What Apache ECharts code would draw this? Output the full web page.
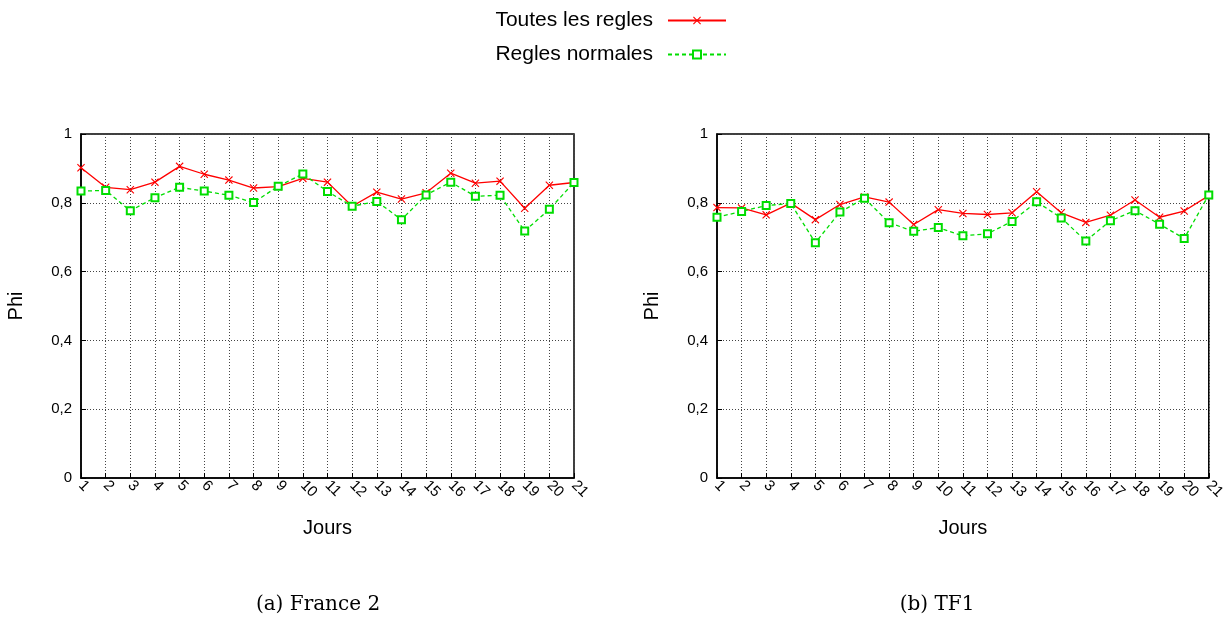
<!DOCTYPE html>
<html lang="fr">
<head>
  <meta charset="UTF-8">
  <title>Phi par jour</title>
</head>
<body style="margin:0; background-color:#fff;">
<div id="main" style="width:1228px; height:619px;"></div>

<script src="https://cdn.jsdelivr.net/npm/echarts@6/dist/echarts.min.js"></script>

<script>
  // jours 1..21
  var jours = ['1','2','3','4','5','6','7','8','9','10','11','12','13','14','15','16','17','18','19','20','21'];
  var yTicks = { min: 0, max: 1, interval: 0.2 };

  // (a) France 2
  var f2Toutes = [0.902, 0.845, 0.838, 0.860, 0.906, 0.883, 0.866, 0.843, 0.847, 0.871, 0.860,
                  0.790, 0.831, 0.811, 0.829, 0.886, 0.857, 0.863, 0.784, 0.851, 0.859];
  var f2Normales = [0.834, 0.836, 0.777, 0.815, 0.845, 0.834, 0.822, 0.801, 0.848, 0.884, 0.833,
                    0.790, 0.804, 0.751, 0.823, 0.860, 0.819, 0.822, 0.718, 0.781, 0.859];

  // (b) TF1
  var tf1Toutes = [0.786, 0.785, 0.765, 0.799, 0.751, 0.795, 0.817, 0.802, 0.737, 0.780, 0.769,
                   0.766, 0.771, 0.832, 0.771, 0.743, 0.764, 0.808, 0.758, 0.776, 0.821];
  var tf1Normales = [0.758, 0.775, 0.792, 0.798, 0.684, 0.773, 0.813, 0.742, 0.717, 0.728, 0.704,
                     0.710, 0.746, 0.803, 0.756, 0.689, 0.748, 0.777, 0.738, 0.696, 0.823];

  var nomToutes = 'Toutes les regles';
  var nomNormales = 'Regles normales';

  var RED = '#ff0000';
  var GREEN = '#00dd00';
  var FONT = 'Liberation Sans';
  // petite croix pleine pour les points
  var CROSS = 'path://M0,1L1,0L5,4L9,0L10,1L6,5L10,9L9,10L5,6L1,10L0,9L4,5Z';

  var chart = echarts.init(document.getElementById('main'));

  function xAxis(i) {
    return {
      type: 'category', gridIndex: i, data: jours, boundaryGap: false,
      name: 'Jours', nameLocation: 'middle', nameGap: 40,
      nameTextStyle: { fontFamily: FONT, fontSize: 20, color: '#000' },
      axisLine: { lineStyle: { color: '#000', width: 1.5 } },
      axisTick: { inside: true, length: 5, interval: 0, lineStyle: { color: '#000' } },
      axisLabel: { interval: 0, rotate: -45, fontFamily: FONT, fontSize: 15, color: '#000', margin: 5 },
      splitLine: { show: true, interval: 0, lineStyle: { color: '#444', type: [1, 2], width: 1 } }
    };
  }

  function yAxis(i) {
    return {
      type: 'value', gridIndex: i, min: yTicks.min, max: yTicks.max, interval: yTicks.interval,
      name: 'Phi', nameLocation: 'middle', nameGap: 55,
      nameTextStyle: { fontFamily: FONT, fontSize: 20, color: '#000' },
      axisLine: { show: true, lineStyle: { color: '#000', width: 1.5 } },
      axisTick: { show: true, inside: true, length: 5, lineStyle: { color: '#000' } },
      axisLabel: {
        fontFamily: FONT, fontSize: 15, color: '#000', margin: 9,
        formatter: function (v) { return String(+v.toFixed(1)).replace('.', ','); }
      },
      splitLine: { show: true, lineStyle: { color: '#444', type: [1, 2], width: 1 } }
    };
  }

  function serie(name, data, i, red) {
    return {
      name: name, type: 'line', xAxisIndex: i, yAxisIndex: i, data: data,
      symbol: red ? CROSS : 'emptyRect', symbolSize: red ? 8 : 7,
      itemStyle: red ? { color: RED } : { color: GREEN, borderColor: GREEN, borderWidth: 1.5 },
      lineStyle: { color: red ? RED : GREEN, width: 1.3, type: red ? 'solid' : [4, 3] },
      emphasis: { disabled: true }
    };
  }

  function legende(name, top) {
    return {
      data: [name], orient: 'vertical', align: 'right', right: 501, top: top, padding: 0,
      itemWidth: 58, itemHeight: 10,
      textStyle: { fontFamily: FONT, fontSize: 21, color: '#000', padding: [0, 10, 0, 0] }
    };
  }

  var option = {
    animation: false,
    backgroundColor: '#fff',
    legend: [legende(nomToutes, 10), legende(nomNormales, 44)],
    title: [
      {
        text: '(a) France 2', left: 313, top: 590, textAlign: 'center',
        textStyle: { fontFamily: 'DejaVu Serif', fontSize: 20, fontWeight: 'normal', color: '#000' }
      },
      {
        text: '(b) TF1', left: 932, top: 590, textAlign: 'center',
        textStyle: { fontFamily: 'DejaVu Serif', fontSize: 20, fontWeight: 'normal', color: '#000' }
      }
    ],
    grid: [
      { left: 81, right: 654, top: 134, bottom: 141, show: true, borderColor: '#000', borderWidth: 1.5 },
      { left: 717, right: 16, top: 134, bottom: 141, show: true, borderColor: '#000', borderWidth: 1.5 }
    ],
    xAxis: [xAxis(0), xAxis(1)],
    yAxis: [yAxis(0), yAxis(1)],
    series: [
      serie(nomToutes, f2Toutes, 0, true),
      serie(nomNormales, f2Normales, 0, false),
      serie(nomToutes, tf1Toutes, 1, true),
      serie(nomNormales, tf1Normales, 1, false)
    ]
  };

  chart.setOption(option);
</script>
</body>
</html>
